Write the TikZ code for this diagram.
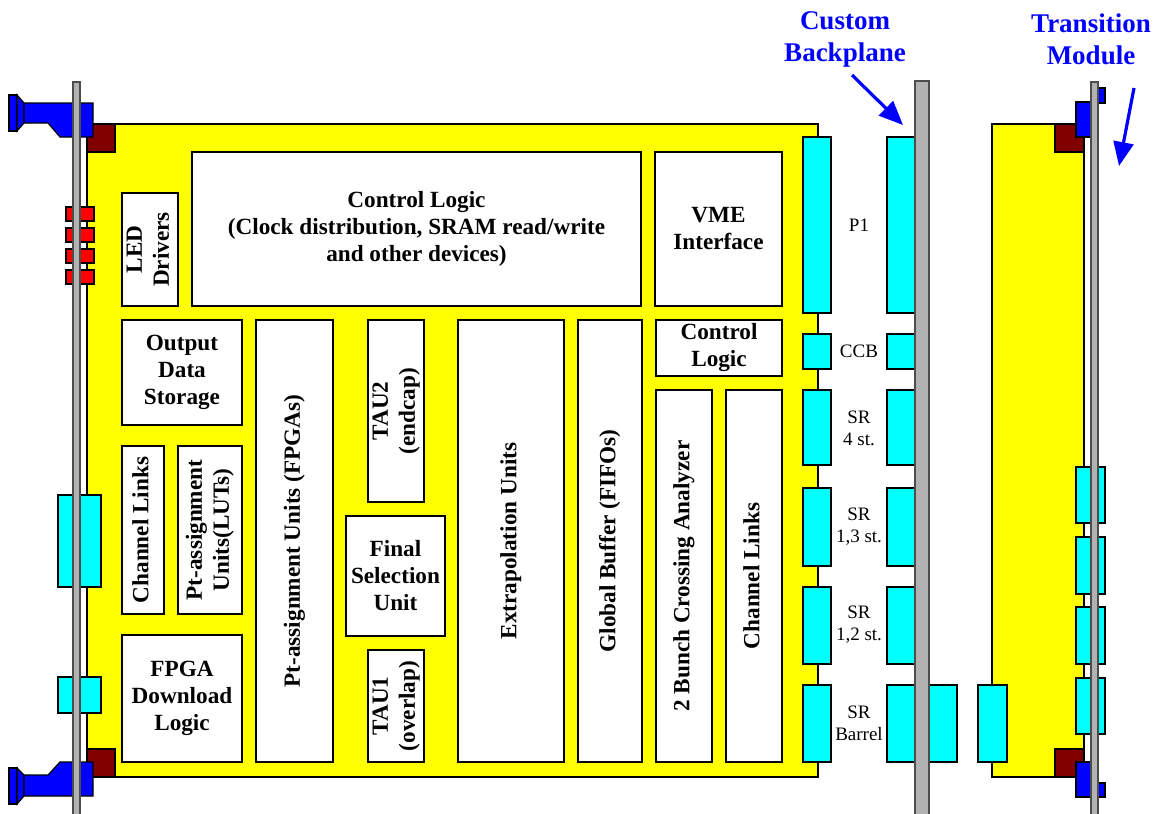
\documentclass[tikz,border=0pt]{standalone}
\usepackage{fontspec}
\setmainfont{Liberation Serif}
\usetikzlibrary{arrows.meta}
\definecolor{railgray}{RGB}{178,178,178}
\definecolor{darkred}{RGB}{128,0,0}
\definecolor{pblue}{RGB}{0,0,255}
\definecolor{pcyan}{RGB}{0,255,255}
\definecolor{pyellow}{RGB}{255,255,0}
\definecolor{pred}{RGB}{255,0,0}
\newcommand\pbox[6]{\node[box, minimum width={(#3-#1)*0.5pt}, minimum height={(#4-#2)*0.5pt}] (#5) at ({(#1+#3)/2},{(#2+#4)/2}) {#6};}
\newcommand\pconn[5]{\node[conn, minimum width={(#3-#1)*0.5pt}, minimum height={(#4-#2)*0.5pt}] (#5) at ({(#1+#3)/2},{(#2+#4)/2}) {};}
\newcommand\rt[1]{\rotatebox{90}{\begin{tabular}{@{}c@{}}#1\end{tabular}}}
\begin{document}
\begin{tikzpicture}[x=0.5pt,y=-0.5pt,
  every node/.style={inner sep=0pt, outer sep=0pt},
  ln/.style={draw=black, line width=0.6pt},
  board/.style={ln, fill=pyellow},
  corner/.style={ln, fill=darkred},
  handle/.style={ln, fill=pblue},
  led/.style={ln, fill=pred},
  rail/.style={draw=black!70, line width=0.6pt, fill=railgray},
  box/.style={ln, fill=white, font=\fontsize{11.6}{13.5}\selectfont\bfseries, align=center},
  conn/.style={ln, fill=pcyan},
  small/.style={font=\fontsize{9.5}{11}\selectfont, align=center},
  title/.style={font=\fontsize{13.5}{16}\selectfont\bfseries, text=pblue, align=center},
  bluearrow/.style={draw=pblue, line width=1.6pt, -{Triangle[length=12pt,width=10pt]}}
]
\useasboundingbox (0,0) rectangle (1153,814);

% ---------------- main board ----------------
\draw[board] (87,124) rectangle (818,777);
\draw[corner] (87,124) rectangle (115,152);
\draw[corner] (87,749) rectangle (115,777);

\pbox{122}{193}{178}{306}{led}{\rt{LED\\Drivers}}
\pbox{192}{152}{641}{306}{ctrl}{Control Logic\\(Clock distribution, SRAM read/write\\and other devices)}
\pbox{655}{152}{782}{306}{vme}{VME\\Interface}
\pbox{122}{320}{242}{425}{ods}{Output\\Data\\Storage}
\pbox{122}{446}{164}{614}{chl}{\rt{Channel Links}}
\pbox{178}{446}{242}{614}{ptl}{\rt{Pt-assignment\\Units(LUTs)}}
\pbox{122}{635}{242}{762}{fdl}{FPGA\\Download\\Logic}
\pbox{256}{320}{333}{762}{ptf}{\rt{Pt-assignment Units (FPGAs)}}
\pbox{368}{320}{424}{502}{tau2}{\rt{TAU2\\(endcap)}}
\pbox{346}{516}{445}{636}{fsu}{Final\\Selection\\Unit}
\pbox{368}{650}{424}{762}{tau1}{\rt{TAU1\\(overlap)}}
\pbox{458}{320}{564}{762}{ext}{\rt{Extrapolation Units}}
\pbox{578}{320}{642}{762}{gb}{\rt{Global Buffer (FIFOs)}}
\pbox{656}{320}{782}{376}{ctrl2}{Control\\Logic}
\pbox{656}{390}{712}{762}{bca}{\rt{2 Bunch Crossing Analyzer}}
\pbox{726}{390}{782}{762}{chr}{\rt{Channel Links}}

% board edge connectors
\pconn{803}{137}{831}{313}{bp1}
\pconn{803}{334}{831}{369}{bccb}
\pconn{803}{390}{831}{465}{bsr4}
\pconn{803}{488}{831}{566}{bsr13}
\pconn{803}{587}{831}{664}{bsr12}
\pconn{803}{685}{831}{762}{bsrb}

% front panel parts
\pconn{58}{495}{101}{587}{fc1}
\pconn{58}{677}{101}{713}{fc2}
\foreach \y in {207,228,249,270} \draw[led] (66,\y) rectangle (94,\y+14);
% top handle
\draw[handle] (9,95) rectangle (17,131);
\draw[handle] (17,95) -- (24,103) -- (24,123) -- (17,131) -- cycle;
\draw[handle] (24,103) -- (93,103) -- (93,137) -- (60,137) -- (48,123) -- (24,123) -- cycle;
% bottom handle
\draw[handle] (9,768) rectangle (17,804);
\draw[handle] (17,768) -- (24,775) -- (24,796) -- (17,804) -- cycle;
\draw[handle] (24,775) -- (48,775) -- (60,762) -- (93,762) -- (93,796) -- (24,796) -- cycle;
% front rail
\draw[rail] (73,82) rectangle (80,818);

% labels of connectors
\node[small] (lp1) at (859,225) {P1};
\node[small] (lccb) at (859,351) {CCB};
\node[small] (lsr4) at (859,428) {SR\\4 st.};
\node[small] (lsr13) at (859,527) {SR\\1,3 st.};
\node[small] (lsr12) at (859,625) {SR\\1,2 st.};
\node[small] (lsrb) at (859,723) {SR\\Barrel};

% ---------------- backplane ----------------
\pconn{887}{137}{915}{313}{kp1}
\pconn{887}{334}{915}{369}{kccb}
\pconn{887}{390}{915}{465}{ksr4}
\pconn{887}{488}{915}{566}{ksr13}
\pconn{887}{587}{915}{664}{ksr12}
\pconn{887}{685}{915}{762}{ksrb}
\pconn{929}{685}{957}{762}{ksrb2}
\draw[rail] (915,81) rectangle (929,818);

% ---------------- transition module ----------------
\draw[board] (992,124) rectangle (1084,777);
\draw[corner] (1055,124) rectangle (1084,152);
\draw[corner] (1055,749) rectangle (1084,777);
\pconn{978}{685}{1007}{762}{tsrb}
\pconn{1076}{467}{1105}{523}{tc1}
\pconn{1076}{537}{1105}{594}{tc2}
\pconn{1076}{607}{1105}{664}{tc3}
\pconn{1076}{678}{1105}{734}{tc4}
\draw[handle] (1076,102) rectangle (1091,137);
\draw[handle] (1098,88) rectangle (1105,103);
\draw[handle] (1076,762) rectangle (1091,797);
\draw[handle] (1098,783) rectangle (1105,797);
\draw[rail] (1091,82) rectangle (1098,818);

% ---------------- titles ----------------
\node[title] (tcb) at (845,39) {Custom\\Backplane};
\node[title] (ttm) at (1091,39) {Transition\\Module};
\coordinate (a1s) at (852,75);
\coordinate (a1e) at (903,125);
\coordinate (a2s) at (1134,88);
\coordinate (a2e) at (1119,166);
\draw[bluearrow] (a1s) -- (a1e);
\draw[bluearrow] (a2s) -- (a2e);
\end{tikzpicture}
\end{document}
